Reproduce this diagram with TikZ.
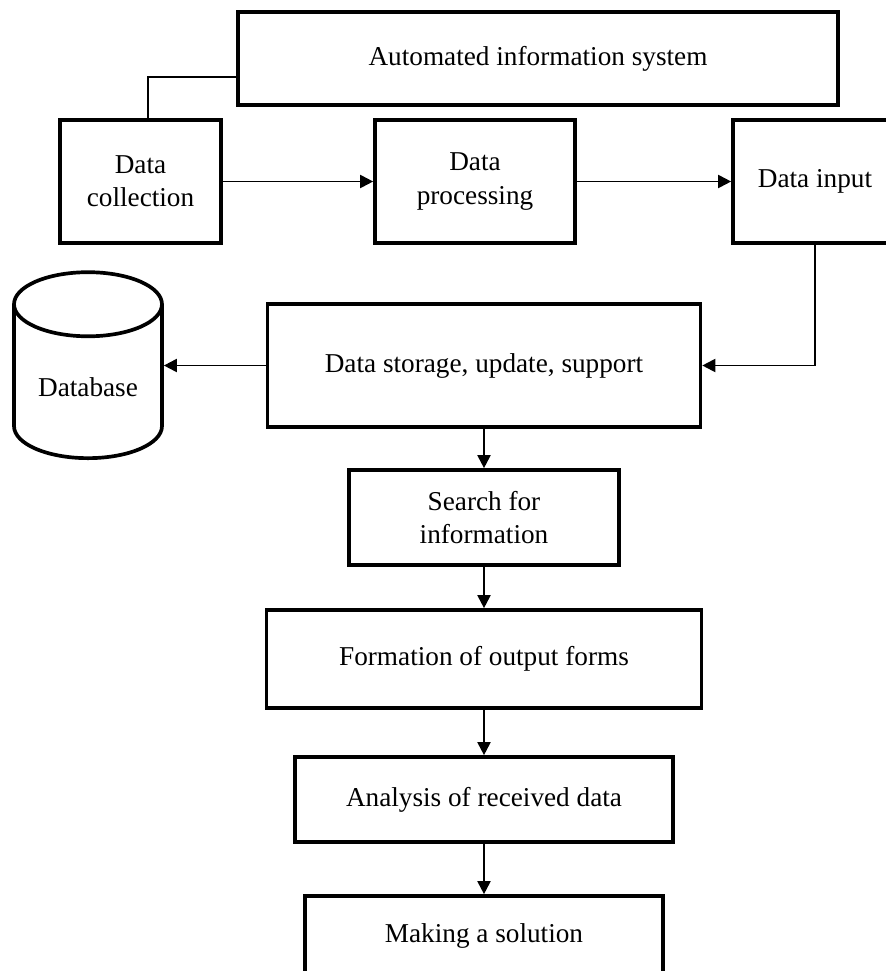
\documentclass[tikz,border=0pt]{standalone}
\usepackage{fontspec}
\setmainfont{Liberation Serif}
\usetikzlibrary{shapes.geometric,arrows.meta}

\begin{document}
\begin{tikzpicture}[x=0.02cm,y=-0.02cm,
    caja/.style={draw, line width=2.1pt, align=center, inner sep=2pt,
      font=\fontsize{15.5}{19}\selectfont},
    flecha/.style={-{Triangle[length=2.6mm,width=2.6mm]}, line width=1.1pt}]
    \useasboundingbox (0,0) rectangle (886,971);

    \node[caja, minimum width=12cm, minimum height=1.86cm] (ais) at (538,58.5) {Automated information system};
    \node[caja, minimum width=3.22cm, minimum height=2.46cm] (coll) at (140.5,181.5) {Data\\collection};
    \node[caja, minimum width=4cm, minimum height=2.46cm] (proc) at (475,181.5) {Data\\processing};
    \node[caja, minimum width=3.28cm, minimum height=2.46cm] (input) at (815,181.5) {Data input};
    \node[caja, shape=cylinder, shape border rotate=90, aspect=0.6,
      minimum width=2.96cm, minimum height=3.72cm] (db) at (88,387) {Database};
    \node[caja, minimum width=8.66cm, minimum height=2.46cm] (stor) at (484,365.5) {Data storage, update, support};
    \node[caja, minimum width=5.4cm, minimum height=1.9cm] (search) at (484,517.5) {Search for\\information};
    \node[caja, minimum width=8.7cm, minimum height=1.96cm] (form) at (484,659) {Formation of output forms};
    \node[caja, minimum width=7.56cm, minimum height=1.7cm] (anal) at (484,799.5) {Analysis of received data};
    \node[caja, minimum width=7.16cm, minimum height=1.58cm] (make) at (484,935.5) {Making a solution};

    \coordinate (codo) at (148,77);
    \draw[line width=1.1pt] (coll.north -| codo) -- (codo) -- (codo -| ais.west);  % enlace al sistema

    \draw[flecha] (coll) -- (proc);
    \draw[flecha] (proc) -- (input);
    \draw[flecha] (input.south) |- (stor.east);
    \draw[flecha] (stor.west) -- (stor.west -| db.east);
    \draw[flecha] (stor) -- (search);
    \draw[flecha] (search) -- (form);
    \draw[flecha] (form) -- (anal);
    \draw[flecha] (anal) -- (make);
\end{tikzpicture}
\end{document}
